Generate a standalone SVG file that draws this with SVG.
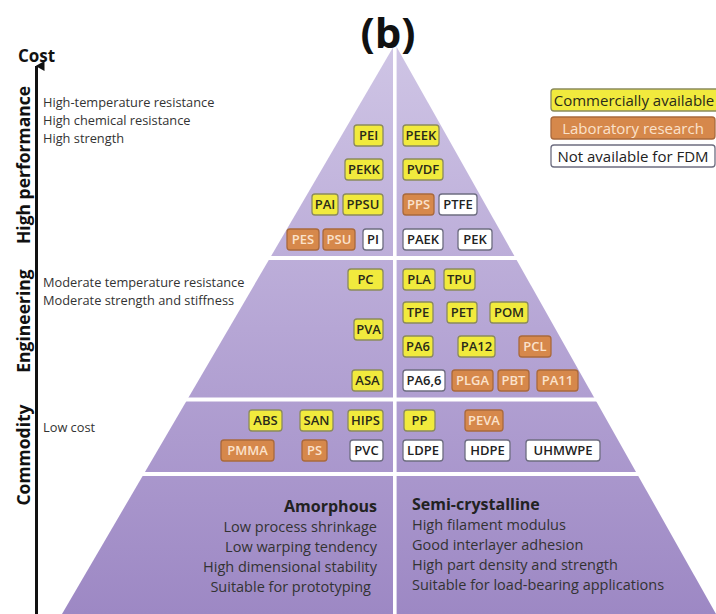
<svg xmlns="http://www.w3.org/2000/svg" width="716" height="614" viewBox="0 0 716 614">
  <defs>
    <linearGradient id="pyrFill" x1="0" y1="44" x2="0" y2="614" gradientUnits="userSpaceOnUse">
      <stop offset="0" stop-color="#cfc5e5"/>
      <stop offset="0.5" stop-color="#b6a6d5"/>
      <stop offset="1" stop-color="#9d88c4"/>
    </linearGradient>
    <marker id="arrowHead" markerWidth="10" markerHeight="10" refX="5" refY="1" orient="auto" markerUnits="userSpaceOnUse" viewBox="0 0 10 10">
      <path d="M0,9 L5,0 L10,9 Z" fill="#111"/>
    </marker>
    <style>
      text { font-family: "Open Sans", "Liberation Sans", sans-serif; }
      .tag rect { stroke-width: 1.3; }
      .tag text { font-size: 13px; font-weight: 600; text-anchor: middle; }
      .y rect { fill: #f1ea3d; stroke: #8b8a5c; }
      .y text { fill: #2a2a1a; }
      .o rect { fill: #d6884b; stroke: #a9693c; }
      .o text { fill: #fbe2cb; }
      .w rect { fill: #ffffff; stroke: #6d6d80; }
      .w text { fill: #222; }
      .legend rect { stroke-width: 1.3; }
      .legend text { font-size: 15px; text-anchor: middle; }
      .side { font-size: 12.8px; fill: #333; }
      .tier { font-size: 17.5px; font-weight: 700; fill: #111; text-anchor: middle; }
      .body { font-size: 14.5px; fill: #333; }
      .head { font-size: 16px; font-weight: 700; fill: #222; }
      .sep { fill: #ffffff; }
    </style>
  </defs>

  <rect width="716" height="614" fill="#ffffff"/>

  <!-- pyramid body, split into tiers by white gaps -->
  <g id="pyramid">
    <polygon points="395,44 716,614 62,614" fill="url(#pyrFill)"/>
    <rect class="sep" x="40" y="256" width="676" height="4"/>
    <rect class="sep" x="40" y="397.5" width="676" height="4"/>
    <rect class="sep" x="40" y="472" width="676" height="4"/>
    <rect class="sep" x="393" y="40" width="3.6" height="574"/>
  </g>

  <!-- title -->
  <text id="title" x="388" y="48" font-size="42" font-weight="700" fill="#111" text-anchor="middle">(b)</text>

  <!-- cost axis -->
  <g id="connectors">
    <line x1="36.5" y1="614" x2="36.5" y2="66" stroke="#111" stroke-width="3" marker-end="url(#arrowHead)"/>
  </g>
  <text id="cost" x="18" y="62" font-size="17" font-weight="700" fill="#111">Cost</text>

  <!-- tier labels -->
  <g id="tier-high">
    <text class="tier" transform="translate(30,165) rotate(-90)">High performance</text>
    <text class="side" x="43" y="107">High-temperature resistance</text>
    <text class="side" x="43" y="125">High chemical resistance</text>
    <text class="side" x="43" y="143">High strength</text>
  </g>
  <g id="tier-engineering">
    <text class="tier" transform="translate(30,321) rotate(-90)">Engineering</text>
    <text class="side" x="43" y="287">Moderate temperature resistance</text>
    <text class="side" x="43" y="305">Moderate strength and stiffness</text>
  </g>
  <g id="tier-commodity">
    <text class="tier" transform="translate(30,455) rotate(-90)">Commodity</text>
    <text class="side" x="43" y="432">Low cost</text>
  </g>

  <!-- legend -->
  <g id="legend" class="legend">
    <g class="y"><rect x="551" y="89" width="168" height="22" rx="3"/><text x="634" y="105.5">Commercially available</text></g>
    <g class="o"><rect x="551" y="117" width="164" height="22" rx="3"/><text x="633" y="133.5">Laboratory research</text></g>
    <g class="w"><rect x="551" y="145" width="164" height="22" rx="3"/><text x="633" y="161.5">Not available for FDM</text></g>
  </g>

  <!-- high performance polymers -->
  <g id="PEI" class="tag y"><rect x="354" y="125" width="29" height="21" rx="3"/><text x="368.5" y="140">PEI</text></g>
  <g id="PEEK" class="tag y"><rect x="403" y="125" width="36" height="21" rx="3"/><text x="421" y="140">PEEK</text></g>
  <g id="PEKK" class="tag y"><rect x="345" y="159" width="38" height="21" rx="3"/><text x="364" y="174">PEKK</text></g>
  <g id="PVDF" class="tag y"><rect x="403" y="159" width="40" height="21" rx="3"/><text x="423" y="174">PVDF</text></g>
  <g id="PAI" class="tag y"><rect x="312" y="194" width="26" height="21" rx="3"/><text x="325" y="209">PAI</text></g>
  <g id="PPSU" class="tag y"><rect x="343" y="194" width="40" height="21" rx="3"/><text x="363" y="209">PPSU</text></g>
  <g id="PPS" class="tag o"><rect x="403" y="194" width="31" height="21" rx="3"/><text x="418.5" y="209">PPS</text></g>
  <g id="PTFE" class="tag w"><rect x="439" y="194" width="38" height="21" rx="3"/><text x="458" y="209">PTFE</text></g>
  <g id="PES" class="tag o"><rect x="287" y="229" width="32" height="21" rx="3"/><text x="303" y="244">PES</text></g>
  <g id="PSU" class="tag o"><rect x="323" y="229" width="32" height="21" rx="3"/><text x="339" y="244">PSU</text></g>
  <g id="PI" class="tag w"><rect x="363" y="229" width="20" height="21" rx="3"/><text x="373" y="244">PI</text></g>
  <g id="PAEK" class="tag w"><rect x="403" y="229" width="40" height="21" rx="3"/><text x="423" y="244">PAEK</text></g>
  <g id="PEK" class="tag w"><rect x="458" y="229" width="34" height="21" rx="3"/><text x="475" y="244">PEK</text></g>

  <!-- engineering polymers -->
  <g id="PC" class="tag y"><rect x="348" y="269" width="35" height="21" rx="3"/><text x="365.5" y="284">PC</text></g>
  <g id="PLA" class="tag y"><rect x="403" y="269" width="32" height="21" rx="3"/><text x="419" y="284">PLA</text></g>
  <g id="TPU" class="tag y"><rect x="444" y="269" width="31" height="21" rx="3"/><text x="459.5" y="284">TPU</text></g>
  <g id="TPE" class="tag y"><rect x="403" y="302" width="30" height="21" rx="3"/><text x="418" y="317">TPE</text></g>
  <g id="PET" class="tag y"><rect x="447" y="302" width="30" height="21" rx="3"/><text x="462" y="317">PET</text></g>
  <g id="POM" class="tag y"><rect x="490" y="302" width="38" height="21" rx="3"/><text x="509" y="317">POM</text></g>
  <g id="PVA" class="tag y"><rect x="354" y="319" width="29" height="21" rx="3"/><text x="368.5" y="334">PVA</text></g>
  <g id="PA6" class="tag y"><rect x="403" y="336" width="30" height="21" rx="3"/><text x="418" y="351">PA6</text></g>
  <g id="PA12" class="tag y"><rect x="458" y="336" width="37" height="21" rx="3"/><text x="476.5" y="351">PA12</text></g>
  <g id="PCL" class="tag o"><rect x="519" y="336" width="32" height="21" rx="3"/><text x="535" y="351">PCL</text></g>
  <g id="ASA" class="tag y"><rect x="352" y="370" width="31" height="21" rx="3"/><text x="367.5" y="385">ASA</text></g>
  <g id="PA66" class="tag w"><rect x="403" y="370" width="42" height="21" rx="3"/><text x="424" y="385">PA6,6</text></g>
  <g id="PLGA" class="tag o"><rect x="452" y="370" width="41" height="21" rx="3"/><text x="472.5" y="385">PLGA</text></g>
  <g id="PBT" class="tag o"><rect x="498" y="370" width="31" height="21" rx="3"/><text x="513.5" y="385">PBT</text></g>
  <g id="PA11" class="tag o"><rect x="537" y="370" width="41" height="21" rx="3"/><text x="557.5" y="385">PA11</text></g>

  <!-- commodity polymers -->
  <g id="ABS" class="tag y"><rect x="249" y="410" width="33" height="21" rx="3"/><text x="265.5" y="425">ABS</text></g>
  <g id="SAN" class="tag y"><rect x="300" y="410" width="33" height="21" rx="3"/><text x="316.5" y="425">SAN</text></g>
  <g id="HIPS" class="tag y"><rect x="348" y="410" width="35" height="21" rx="3"/><text x="365.5" y="425">HIPS</text></g>
  <g id="PP" class="tag y"><rect x="404" y="410" width="31" height="21" rx="3"/><text x="419.5" y="425">PP</text></g>
  <g id="PEVA" class="tag o"><rect x="465" y="410" width="38" height="21" rx="3"/><text x="484" y="425">PEVA</text></g>
  <g id="PMMA" class="tag o"><rect x="221" y="440" width="53" height="21" rx="3"/><text x="247.5" y="455">PMMA</text></g>
  <g id="PS" class="tag o"><rect x="302" y="440" width="25" height="21" rx="3"/><text x="314.5" y="455">PS</text></g>
  <g id="PVC" class="tag w"><rect x="350" y="440" width="33" height="21" rx="3"/><text x="366.5" y="455">PVC</text></g>
  <g id="LDPE" class="tag w"><rect x="403" y="440" width="40" height="21" rx="3"/><text x="423" y="455">LDPE</text></g>
  <g id="HDPE" class="tag w"><rect x="465" y="440" width="45" height="21" rx="3"/><text x="487.5" y="455">HDPE</text></g>
  <g id="UHMWPE" class="tag w"><rect x="526" y="440" width="74" height="21" rx="3"/><text x="563" y="455">UHMWPE</text></g>

  <!-- base: structural classes -->
  <g id="amorphous" text-anchor="end">
    <text class="head" x="377" y="512">Amorphous</text>
    <text class="body" x="377" y="532">Low process shrinkage</text>
    <text class="body" x="377" y="552">Low warping tendency</text>
    <text class="body" x="377" y="572">High dimensional stability</text>
    <text class="body" x="371" y="592">Suitable for prototyping</text>
  </g>
  <g id="semi-crystalline">
    <text class="head" x="412" y="510">Semi-crystalline</text>
    <text class="body" x="412" y="530">High filament modulus</text>
    <text class="body" x="412" y="550">Good interlayer adhesion</text>
    <text class="body" x="412" y="570">High part density and strength</text>
    <text class="body" x="412" y="590">Suitable for load-bearing applications</text>
  </g>
</svg>
